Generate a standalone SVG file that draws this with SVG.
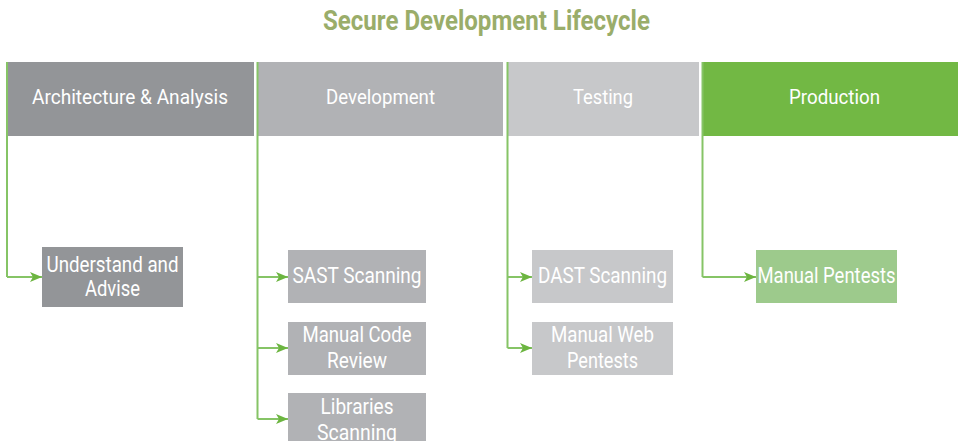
<svg xmlns="http://www.w3.org/2000/svg" width="958" height="441" viewBox="0 0 958 441">
<defs>
<marker id="arr" viewBox="0 0 12 10" refX="12" refY="5" markerWidth="12" markerHeight="10" markerUnits="userSpaceOnUse" orient="auto">
<path d="M0,0 L12,5 L0,10 L3,5 Z" fill="#6cb540"/>
</marker>
<style>
text{font-family:Roboto,"Liberation Sans",sans-serif;fill:#ffffff;text-anchor:middle}
.t{font-size:27px;font-weight:bold;fill:#9aad6a}
.h{font-size:21px}
.c{font-size:22px}
.ln{fill:none;stroke:#86c466;stroke-width:2}
.ar{fill:none;stroke:#86c466;stroke-width:2;marker-end:url(#arr)}
</style>
</defs>
<rect width="958" height="441" fill="#ffffff"/>
<text class="t" x="486.5" y="30" textLength="327" lengthAdjust="spacingAndGlyphs">Secure Development Lifecycle</text>

<g id="h-arch"><rect x="7" y="62" width="247" height="74" fill="#939598"/><text class="h" x="130" y="104" textLength="196" lengthAdjust="spacingAndGlyphs">Architecture &amp; Analysis</text></g>
<g id="h-dev"><rect x="257" y="62" width="246" height="74" fill="#b1b2b5"/><text class="h" x="380.5" y="104" textLength="109" lengthAdjust="spacingAndGlyphs">Development</text></g>
<g id="h-test"><rect x="507" y="62" width="192" height="74" fill="#c7c8ca"/><text class="h" x="603" y="104" textLength="60" lengthAdjust="spacingAndGlyphs">Testing</text></g>
<g id="h-prod"><rect x="702" y="62" width="256" height="74" fill="#72b844"/><text class="h" x="834.5" y="104" textLength="91" lengthAdjust="spacingAndGlyphs">Production</text></g>

<g id="n-understand"><rect x="42" y="247" width="141" height="60" fill="#939598"/><text class="c" x="112.5" y="272" textLength="132" lengthAdjust="spacingAndGlyphs">Understand and</text><text class="c" x="112.5" y="296" textLength="55" lengthAdjust="spacingAndGlyphs">Advise</text></g>
<g id="n-sast"><rect x="288" y="250" width="138" height="53" fill="#b1b2b5"/><text class="c" x="357" y="283" textLength="129" lengthAdjust="spacingAndGlyphs">SAST Scanning</text></g>
<g id="n-mcr"><rect x="288" y="322" width="138" height="53" fill="#b1b2b5"/><text class="c" x="357" y="342" textLength="109" lengthAdjust="spacingAndGlyphs">Manual Code</text><text class="c" x="357" y="368" textLength="60" lengthAdjust="spacingAndGlyphs">Review</text></g>
<g id="n-lib"><rect x="288" y="393" width="138" height="53" fill="#b1b2b5"/><text class="c" x="357" y="414" textLength="73" lengthAdjust="spacingAndGlyphs">Libraries</text><text class="c" x="357" y="440" textLength="80" lengthAdjust="spacingAndGlyphs">Scanning</text></g>
<g id="n-dast"><rect x="532" y="250" width="141" height="53" fill="#c7c8ca"/><text class="c" x="602.5" y="283" textLength="129" lengthAdjust="spacingAndGlyphs">DAST Scanning</text></g>
<g id="n-mwp"><rect x="532" y="322" width="141" height="53" fill="#c7c8ca"/><text class="c" x="602.5" y="342" textLength="103" lengthAdjust="spacingAndGlyphs">Manual Web</text><text class="c" x="602.5" y="368" textLength="71" lengthAdjust="spacingAndGlyphs">Pentests</text></g>
<g id="n-mp"><rect x="756" y="250" width="141" height="53" fill="#9dca8c"/><text class="c" x="826.5" y="283" textLength="138" lengthAdjust="spacingAndGlyphs">Manual Pentests</text></g>

<g id="connectors">
<path class="ln" d="M7,62 V277"/>
<path class="ar" d="M7,277 H42"/>
<path class="ln" d="M257.5,62 V419"/>
<path class="ar" d="M257.5,277 H288"/>
<path class="ar" d="M257.5,348 H288"/>
<path class="ar" d="M257.5,419 H288"/>
<path class="ln" d="M507.5,62 V348"/>
<path class="ar" d="M507.5,277 H532"/>
<path class="ar" d="M507.5,348 H532"/>
<path class="ln" d="M702.5,62 V277"/>
<path class="ar" d="M702.5,277 H756"/>
</g>
</svg>
